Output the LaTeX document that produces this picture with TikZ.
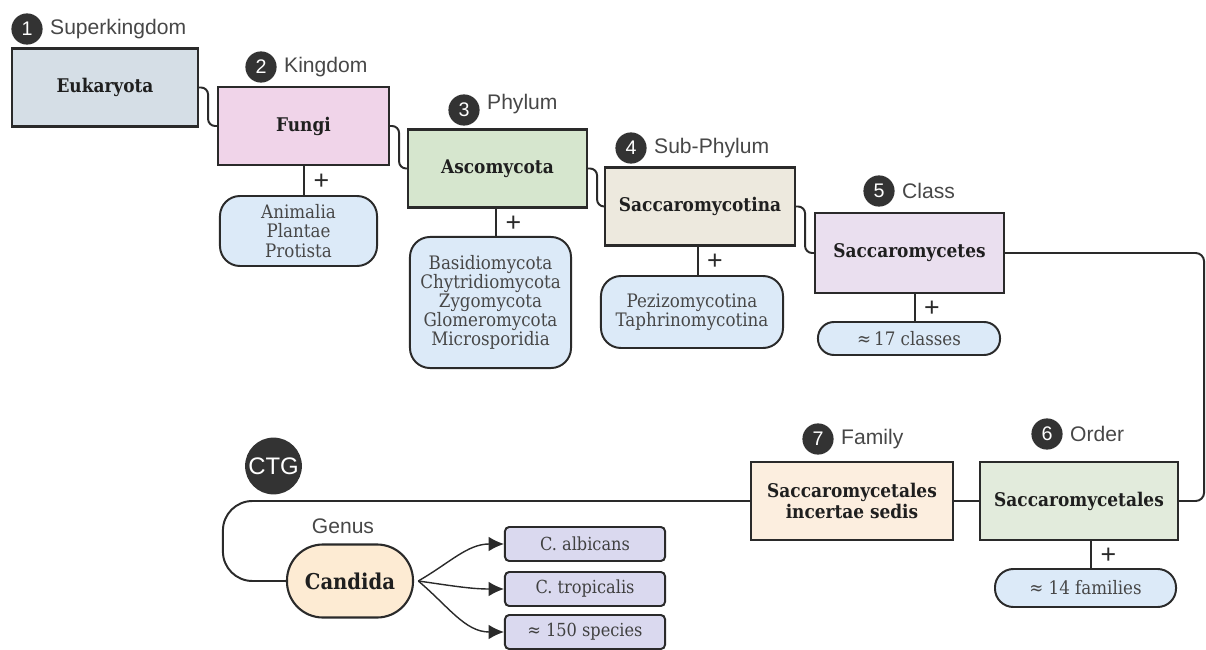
\documentclass[tikz,border=0pt]{standalone}
\usepackage{fontspec}
\setmainfont{DejaVu Serif Condensed}
\setsansfont{Liberation Sans}
\usetikzlibrary{positioning, arrows.meta}
\definecolor{lineDark}{HTML}{2A2A2A}
\definecolor{badgeGrey}{HTML}{333333}
\definecolor{eukBlue}{HTML}{D5DEE6}
\definecolor{fungiPink}{HTML}{F0D4E9}
\definecolor{ascoGreen}{HTML}{D6E6CE}
\definecolor{subBeige}{HTML}{EDE9DE}
\definecolor{classLilac}{HTML}{EADFEF}
\definecolor{orderGreen}{HTML}{E2EBDC}
\definecolor{famPeach}{HTML}{FCEEDF}
\definecolor{candPeach}{HTML}{FDEBD3}
\definecolor{extraBlue}{HTML}{DCEAF8}
\definecolor{speciesLilac}{HTML}{DAD9EF}

\begin{document}
\begin{tikzpicture}[x=0.025cm, y=-0.025cm,
    taxon/.style={draw=lineDark, line width=1.5pt, minimum height=1.95cm, align=center,
      inner sep=2pt, font=\fontsize{13.4}{14.5}\selectfont\bfseries, text=black!88},
    extra/.style={draw=lineDark, line width=1.4pt, rounded corners=0.5cm, fill=extraBlue,
      align=center, inner sep=2pt, font=\fontsize{13.2}{13.6}\selectfont, text=black!72},
    badge/.style={circle, fill=badgeGrey, text=white, minimum size=0.78cm, inner sep=0pt,
      font=\sffamily\fontsize{14}{14}\selectfont},
    rank/.style={font=\sffamily\fontsize{15}{17}\selectfont, text=black!72, inner sep=1pt},
    link/.style={lineDark, line width=1.4pt},
    plus/.style={font=\sffamily\fontsize{19}{19}\selectfont, anchor=west, inner sep=0pt},
    spbox/.style={draw=lineDark, line width=1.4pt, rounded corners=3pt, fill=speciesLilac,
      minimum width=4cm, minimum height=0.85cm, font=\fontsize{12.8}{13}\selectfont, text=black!75},
    sparr/.style={-{Latex[length=11pt, width=10.5pt]}, lineDark, line width=1pt}]
  \useasboundingbox (0,0) rectangle (1206,650);

  % main ranks
  \node[taxon, fill=eukBlue, minimum width=4.65cm] (euk) at (105,87.5) {Eukaryota};
  \node[taxon, fill=fungiPink, minimum width=4.275cm] (fun) at (303.5,126) {Fungi};
  \node[taxon, fill=ascoGreen, minimum width=4.475cm] (asc) at (497.5,168.5) {Ascomycota};
  \node[taxon, fill=subBeige, minimum width=4.75cm] (sbp) at (700,206.5) {Saccaromycotina};
  \node[taxon, fill=classLilac, minimum width=4.725cm, minimum height=2cm] (cls) at (909.5,253) {Saccaromycetes};
  \node[taxon, fill=orderGreen, minimum width=4.95cm] (ord) at (1079,501) {Saccaromycetales};
  \node[taxon, fill=famPeach, minimum width=5.05cm] (fam) at (852,501) {Saccaromycetales\\incertae sedis};

  % numbered badges
  \node[badge] (b1) at (27,29) {1};
  \node[badge] (b2) at (261,67) {2};
  \node[badge] (b3) at (464,110) {3};
  \node[badge] (b4) at (631,148) {4};
  \node[badge] (b5) at (879,191) {5};
  \node[badge] (b6) at (1047,434) {6};
  \node[badge] (b7) at (818,439) {7};
  \node[rank, right=4pt of b1] {Superkingdom};
  \node[rank, right=4pt of b2] {Kingdom};
  \node[rank, right=4pt of b3, yshift=4pt] {Phylum};
  \node[rank, right=4pt of b4] {Sub-Phylum};
  \node[rank, right=4pt of b5] {Class};
  \node[rank, right=4pt of b6] {Order};
  \node[rank, right=4pt of b7] {Family};

  % other members of each rank
  \node[extra, minimum width=3.925cm, minimum height=1.75cm] (fsub) at (298.5,231) {Animalia\\Plantae\\Protista};
  \node[extra, minimum width=4.025cm, minimum height=3.275cm] (asub) at (490.5,302.5)
    {Basidiomycota\\Chytridiomycota\\Zygomycota\\Glomeromycota\\Microsporidia};
  \node[extra, minimum width=4.55cm, minimum height=1.8cm] (ssub) at (692,312) {Pezizomycotina\\Taphrinomycotina};
  \node[extra, rounded corners=0.4cm, minimum width=4.55cm, minimum height=0.825cm] (csub) at (909,338.5) {≈\,17 classes};
  \node[extra, rounded corners=0.46cm, minimum width=4.525cm, minimum height=0.95cm] (osub) at (1085.5,588) {≈ 14 families};

  \foreach \t/\s in {fun/fsub, asc/asub, sbp/ssub, cls/csub, ord/osub}
    \draw[link] ([xshift=4pt]\s.north) -- node[plus, pos=0.45, xshift=6pt] {+} ([xshift=4pt]\s.north |- \t.south);

  % chain
  \foreach \a/\b in {euk/fun, fun/asc, asc/sbp, sbp/cls}
    \draw[link, rounded corners=5pt] (\a.east) -- ++(9,0) |- (\b.west);
  \draw[link, rounded corners=6pt] (cls.east) -- ++(199,0) |- (ord.east);
  \draw[link] (ord.west) -- (fam.east);

  % genus
  \node[draw=lineDark, line width=1.5pt, fill=candPeach, rounded corners=0.9cm, minimum width=3.15cm,
    minimum height=1.825cm, font=\fontsize{15.5}{16}\selectfont\bfseries, text=black!88] (cand) at (350,581) {Candida};
  \node[rank, above=6pt of cand, xshift=-5pt] {Genus};
  \node[circle, fill=badgeGrey, text=white, minimum size=1.42cm, inner sep=0pt,
    font=\sffamily\fontsize{17}{17}\selectfont] (ctg) at (273.5,466) {CTG};
  \draw[link, rounded corners=21pt] (fam.west) -- ++(-527,0) |- (cand.west);

  % species
  \node[spbox] (spa) at (585,544) {C. albicans};
  \node[spbox] (spb) at (585,589) {C. tropicalis};
  \node[spbox] (spc) at (585,632) {≈ 150 species};
  \foreach \s/\o in {spa/30, spb/-8, spc/-40}
    \draw[sparr] ([xshift=3pt]cand.east) to[out=\o, in=180] (\s.west);
\end{tikzpicture}
\end{document}
